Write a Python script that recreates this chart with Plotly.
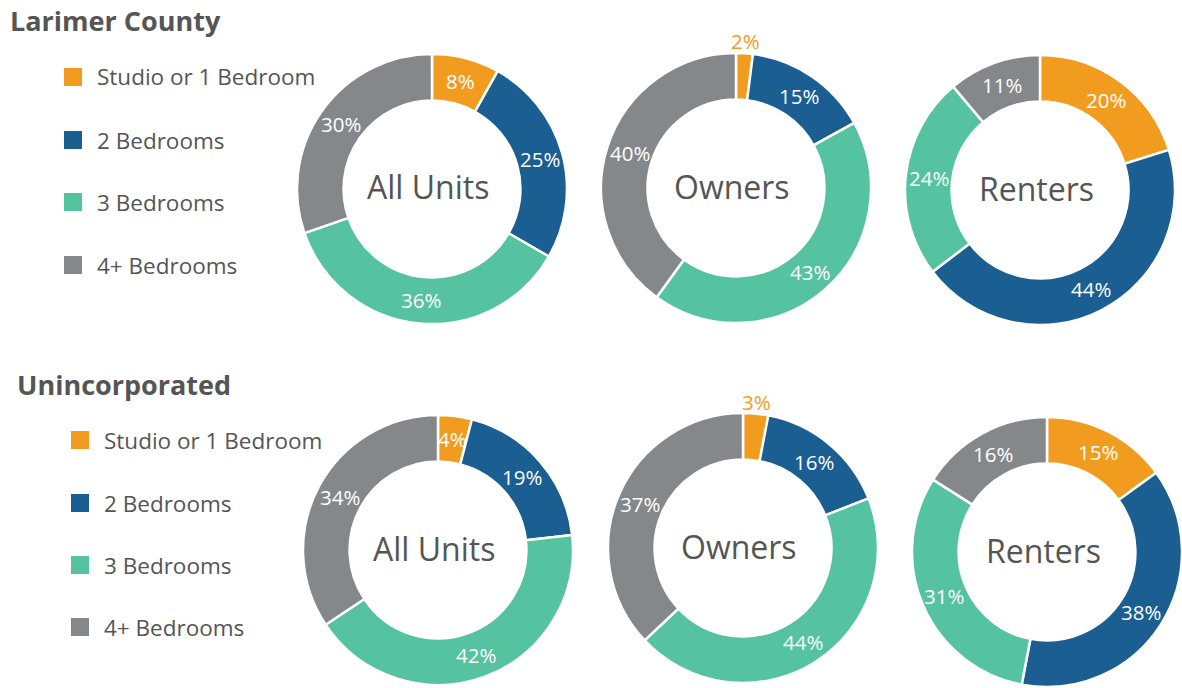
import math
import plotly.graph_objects as go

W, H = 1182, 688

categories = ["Studio or 1 Bedroom", "2 Bedrooms", "3 Bedrooms", "4+ Bedrooms"]
colors = ["#F29C1F", "#1B5E91", "#55C2A0", "#85888B"]

section_titles = ["Larimer County", "Unincorporated"]
chart_names = ["All Units", "Owners", "Renters"]

larimer_all = [8, 25, 36, 30]
larimer_owners = [2, 15, 43, 40]
larimer_renters = [20, 44, 24, 11]
uninc_all = [4, 19, 42, 34]
uninc_owners = [3, 16, 44, 37]
uninc_renters = [15, 38, 31, 16]

rows = [
    [larimer_all, larimer_owners, larimer_renters],
    [uninc_all, uninc_owners, uninc_renters],
]

# pixel layout: (left, right, top, bottom) of each pie's domain
domains_px = [
    [(297, 567, 54, 324), (601, 871, 53, 323), (905, 1175, 55, 325)],
    [(303, 573, 415, 685), (608, 878, 413, 683), (912, 1182, 417, 687)],
]
HOLE = 0.655

def X(px):
    return px / W

def Y(py):
    return 1 - py / H

def px_dom(l, r, t, b):
    return dict(x=[X(l), X(r)], y=[Y(b), Y(t)])

fig = go.Figure()
annotations = []

for ri, row in enumerate(rows):
    for ci, vals in enumerate(row):
        l, r, t, b = domains_px[ri][ci]
        fig.add_trace(go.Pie(
            labels=categories,
            values=vals,
            text=[f"{v}%" for v in vals],
            textinfo="none",
            marker=dict(colors=colors, line=dict(color="white", width=2.5)),
            hole=HOLE,
            sort=False,
            direction="clockwise",
            rotation=0,
            domain=px_dom(l, r, t, b),
            showlegend=False,
            hoverinfo="label+text",
        ))
        cx, cy = (l + r) / 2, (t + b) / 2
        R = min(r - l, b - t) / 2
        # slice value labels at the middle of each ring segment
        total = sum(vals)
        cum = 0
        for v in vals:
            ang = math.radians((cum + v / 2) / total * 360)
            cum += v
            if v < 4:
                rr = R + 12
                col = colors[0]
            else:
                rr = (R + R * HOLE) / 2
                col = "white"
            annotations.append(dict(
                x=X(cx + rr * math.sin(ang)), y=Y(cy - rr * math.cos(ang)),
                xref="paper", yref="paper", text=f"{v}%", showarrow=False,
                font=dict(family="Open Sans", size=20.5, color=col),
                xanchor="center", yanchor="middle",
            ))
        annotations.append(dict(
            x=X(cx - 4), y=Y(cy - 2),
            xref="paper", yref="paper", text=chart_names[ci], showarrow=False,
            font=dict(family="Open Sans", size=32, color="#555555"),
            xanchor="center", yanchor="middle",
        ))

# section titles
title_pos = [(8, 21), (15, 384)]
for (tx, ty), title in zip(title_pos, section_titles):
    annotations.append(dict(
        x=X(tx), y=Y(ty), xref="paper", yref="paper",
        text=f"<b>{title}</b>", showarrow=False,
        font=dict(family="Open Sans", size=27, color="#555555"),
        xanchor="left", yanchor="middle",
    ))

# custom legends
legend_pos = [(64, [77, 140, 202, 265]), (71, [440, 503, 565, 627])]
shapes = []
for sx, ys in legend_pos:
    for cat, col, yy in zip(categories, colors, ys):
        shapes.append(dict(
            type="rect", xref="paper", yref="paper",
            x0=X(sx), x1=X(sx + 18),
            y0=Y(yy + 9), y1=Y(yy - 9),
            fillcolor=col, line=dict(width=0),
        ))
        annotations.append(dict(
            x=X(sx + 31), y=Y(yy), xref="paper", yref="paper",
            text=cat, showarrow=False,
            font=dict(family="Open Sans", size=22.5, color="#555555"),
            xanchor="left", yanchor="middle",
        ))

fig.update_layout(
    width=W, height=H,
    margin=dict(l=0, r=0, t=0, b=0),
    paper_bgcolor="white", plot_bgcolor="white",
    annotations=annotations, shapes=shapes,
    font=dict(family="Open Sans"),
)

fig.write_html("out.html", config={"displayModeBar": False},
               post_script="document.body.style.margin='0';")
